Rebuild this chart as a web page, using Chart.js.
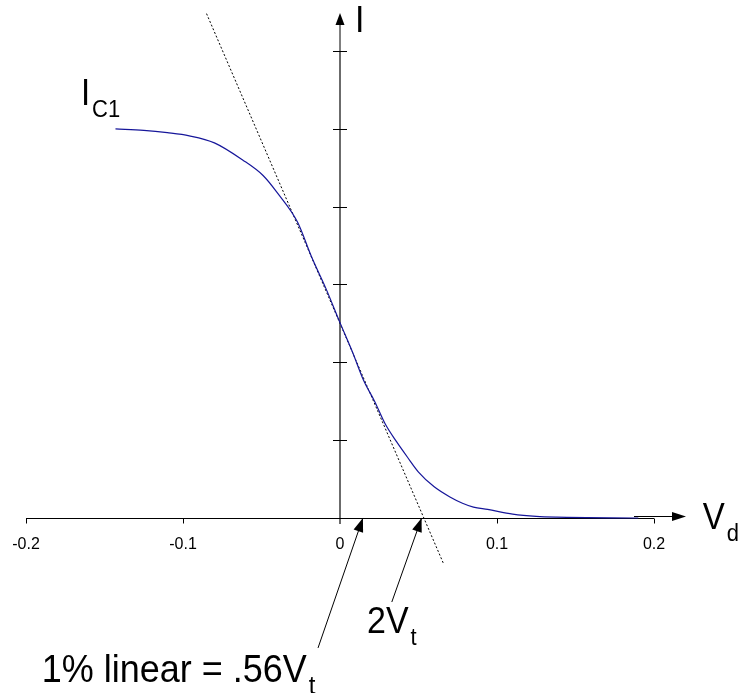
<!DOCTYPE html>
<html>
<head>
<meta charset="utf-8">
<script src="https://cdn.jsdelivr.net/npm/chart.js@4.4.0/dist/chart.umd.min.js"></script>
<style>
  body { margin: 0; background: #fff; }
  #wrap { width: 742px; height: 693px; position: relative; }
</style>
</head>
<body>
<div id="wrap"><canvas id="myChart"></canvas></div>
<script>
// differential voltage (V) and collector current I_C1
const vd  = [-0.143, -0.125, -0.11, -0.096, -0.08, -0.062, -0.049, -0.04, -0.027, -0.018, -0.009, 0, 0.008, 0.015, 0.022, 0.029, 0.036, 0.043, 0.05, 0.06, 0.07, 0.078, 0.085, 0.094, 0.11, 0.125, 0.138, 0.19];
const ic1 = [5.0, 4.98, 4.95, 4.91, 4.82, 4.60, 4.40, 4.18, 3.80, 3.35, 2.95, 2.51, 2.13, 1.77, 1.50, 1.20, 0.98, 0.78, 0.59, 0.40, 0.27, 0.19, 0.14, 0.11, 0.05, 0.02, 0.01, 0.0];

// tangent at the origin
const tanV = [-0.085, 0.066];
const tanI = [6.48, -0.59];

// axis ticks
const xTicks = [-0.2, -0.1, 0, 0.1, 0.2];
const xTickLabels = ['-0.2', '-0.1', '0', '0.1', '0.2'];
const yTicks = [1, 2, 3, 4, 5, 6];

// annotation arrows: [tailV, tailI, tipV, tipI]
const arrows = [
  [-0.014, -1.67, 0.0146, 0],
  [0.033, -1.08, 0.052, 0]
];

// labels: text, subscript, V, I, font size
const labels = [
  { text: 'I', sub: '', v: 0.0096, i: 6.24, size: 34 },
  { text: 'I', sub: 'C1', v: -0.165, i: 5.31, size: 33 },
  { text: 'V', sub: 'd', v: 0.231, i: -0.14, size: 33 },
  { text: '2V', sub: 't', v: 0.0172, i: -1.48, size: 34 },
  { text: '1% linear = .56V', sub: 't', v: -0.190, i: -2.11, size: 36 }
];

const curve = vd.map((v, k) => ({ x: v, y: ic1[k] }));
const tangent = tanV.map((v, k) => ({ x: v, y: tanI[k] }));

function arrowHead(ctx, x1, y1, x2, y2, len, half){
    const a = Math.atan2(y2 - y1, x2 - x1);
    ctx.beginPath();
    ctx.moveTo(x2, y2);
    ctx.lineTo(x2 - len * Math.cos(a) + half * Math.sin(a), y2 - len * Math.sin(a) - half * Math.cos(a));
    ctx.lineTo(x2 - len * Math.cos(a) - half * Math.sin(a), y2 - len * Math.sin(a) + half * Math.cos(a));
    ctx.closePath();
    ctx.fill();
}

const axesPlugin = {
    id: 'axesPlugin',
    beforeDatasetsDraw(chart){
        const ctx = chart.ctx;
        const xs = chart.scales.x, ys = chart.scales.y;
        const x0 = xs.getPixelForValue(0), y0 = ys.getPixelForValue(0);
        const xl = xs.getPixelForValue(-0.2), xr = xs.getPixelForValue(0.2);
        const yTop = ys.getPixelForValue(6);
        ctx.save();
        // y axis
        ctx.strokeStyle = '#6b6b6b';
        ctx.lineWidth = 2;
        ctx.beginPath();
        ctx.moveTo(x0, y0 + 6);
        ctx.lineTo(x0, yTop);
        ctx.stroke();
        ctx.strokeStyle = '#000';
        ctx.lineWidth = 1;
        ctx.beginPath();
        ctx.moveTo(x0, yTop);
        ctx.lineTo(x0, yTop - 28);
        ctx.stroke();
        ctx.fillStyle = '#000';
        arrowHead(ctx, x0, yTop, x0, yTop - 38, 12, 4.5);
        yTicks.forEach(t => {
            const py = Math.round(ys.getPixelForValue(t)) + 0.5;
            ctx.beginPath();
            ctx.moveTo(x0 - 7, py);
            ctx.lineTo(x0 + 7, py);
            ctx.stroke();
        });
        // x axis
        const py0 = Math.round(y0) + 0.5;
        ctx.beginPath();
        ctx.moveTo(xl, py0);
        ctx.lineTo(xr, py0);
        ctx.stroke();
        xTicks.forEach(t => {
            if (t === 0) return;
            const px = Math.round(xs.getPixelForValue(t)) + 0.5;
            ctx.beginPath();
            ctx.moveTo(px, py0);
            ctx.lineTo(px, py0 + 5);
            ctx.stroke();
        });
        // x arrow
        ctx.beginPath();
        ctx.moveTo(xr - 20, py0 - 2);
        ctx.lineTo(xr + 20, py0 - 2);
        ctx.stroke();
        arrowHead(ctx, xr - 20, py0 - 2, xr + 32, py0 - 2, 14, 4.5);
        // tick labels
        ctx.font = '16px "Liberation Sans", Arial, sans-serif';
        ctx.textAlign = 'center';
        ctx.textBaseline = 'middle';
        xTicks.forEach((t, k) => {
            ctx.fillText(xTickLabels[k], xs.getPixelForValue(t), y0 + 27);
        });
        ctx.restore();
    },
    afterDraw(chart){
        const ctx = chart.ctx;
        const xs = chart.scales.x, ys = chart.scales.y;
        ctx.save();
        ctx.strokeStyle = '#000';
        ctx.fillStyle = '#000';
        ctx.lineWidth = 1;
        arrows.forEach(a => {
            const x1 = xs.getPixelForValue(a[0]), y1 = ys.getPixelForValue(a[1]);
            const x2 = xs.getPixelForValue(a[2]), y2 = ys.getPixelForValue(a[3]);
            ctx.beginPath();
            ctx.moveTo(x1, y1);
            ctx.lineTo(x2, y2);
            ctx.stroke();
            arrowHead(ctx, x1, y1, x2, y2, 14, 5);
        });
        ctx.textAlign = 'left';
        ctx.textBaseline = 'alphabetic';
        labels.forEach(l => {
            const px = xs.getPixelForValue(l.v), py = ys.getPixelForValue(l.i);
            // glyphs in the original are a bit taller than wide
            ctx.save();
            ctx.translate(px, py);
            ctx.scale(1, 1.1);
            ctx.font = l.size + 'px "Liberation Sans", Arial, sans-serif';
            ctx.fillText(l.text, 0, 0);
            if (l.sub){
                const w = ctx.measureText(l.text).width;
                ctx.font = Math.round(l.size * 0.66) + 'px "Liberation Sans", Arial, sans-serif';
                ctx.fillText(l.sub, w + 2, 11);
            }
            ctx.restore();
        });
        ctx.restore();
    }
};

const ctx = document.querySelector('#myChart').getContext('2d');
const myChart = new Chart(ctx, {
    type: 'scatter',
    data: {
        datasets: [
            {
                label: 'IC1',
                data: curve,
                showLine: true,
                borderColor: '#16169a',
                borderWidth: 1.2,
                pointRadius: 0,
                cubicInterpolationMode: 'monotone'
            },
            {
                label: 'tangent',
                data: tangent,
                showLine: true,
                borderColor: '#000000',
                borderWidth: 1,
                borderDash: [2, 2],
                pointRadius: 0
            }
        ]
    },
    options: {
        responsive: true,
        maintainAspectRatio: false,
        animation: false,
        layout: { padding: { left: 26, right: 88, top: 4.3, bottom: 3.8 } },
        plugins: { legend: { display: false }, tooltip: { enabled: false } },
        scales: {
            x: { type: 'linear', min: -0.2, max: 0.2, display: false },
            y: { type: 'linear', min: -2.2, max: 6.6, display: false }
        }
    },
    plugins: [axesPlugin]
});
</script>
</body>
</html>
